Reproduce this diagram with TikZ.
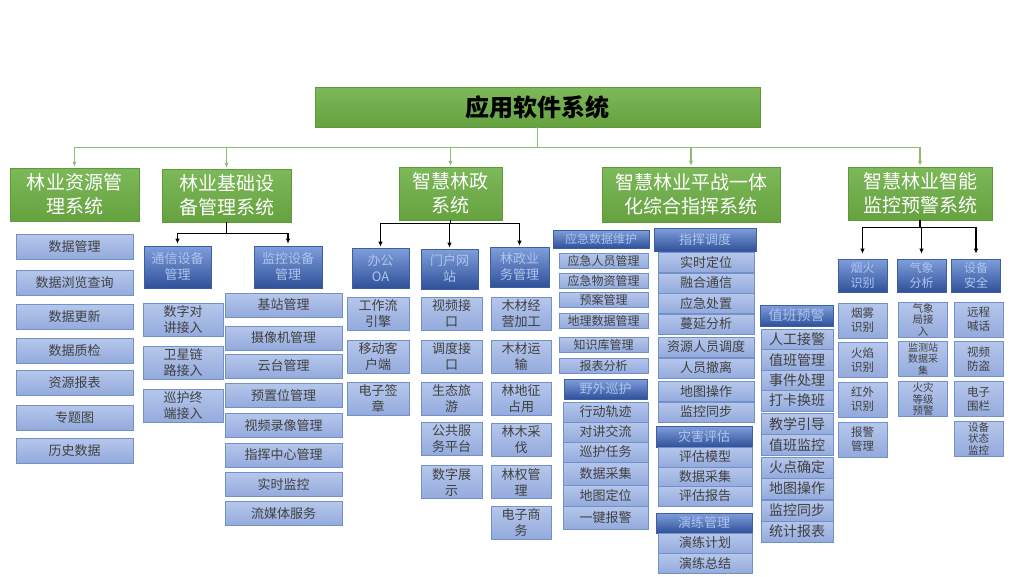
\documentclass[tikz,border=0pt]{standalone}
\usepackage{fontspec}
\setmainfont{Noto Sans CJK SC}
\usetikzlibrary{arrows.meta}

\definecolor{grntop}{HTML}{7DB85A}
\definecolor{grnbot}{HTML}{66A23F}
\definecolor{grnedge}{HTML}{5E9A3A}
\definecolor{grnline}{HTML}{8EBB6F}
\definecolor{itemtop}{HTML}{B6C7EB}
\definecolor{itembot}{HTML}{93AADC}
\definecolor{itemedge}{HTML}{7290CA}
\definecolor{itemtext}{HTML}{404040}
\definecolor{headtop}{HTML}{7F9EDB}
\definecolor{headbot}{HTML}{2F5199}
\definecolor{headedge}{HTML}{3D5EA3}
\definecolor{headtext}{HTML}{AFC4EE}

\begin{document}
\begin{tikzpicture}[x=1pt,y=-1pt,>={Latex[length=5pt,width=4.5pt]},
  sz/.style 2 args={minimum width=#1pt,minimum height=#2pt},
  sysbox/.style={draw=grnedge,line width=0.5pt,top color=grntop,bottom color=grnbot,
    text=white,align=center,inner sep=0pt,font=\fontsize{19}{24}\selectfont},
  rootbox/.style={sysbox,text=black,font=\fontsize{24}{28}\selectfont\bfseries},
  item/.style={draw=itemedge,line width=0.6pt,top color=itemtop,bottom color=itembot,
    text=itemtext,align=center,inner sep=0pt,font=\fontsize{13}{16}\selectfont},
  head/.style={draw=headedge,line width=0.6pt,top color=headtop,bottom color=headbot,
    text=headtext,align=center,inner sep=0pt,font=\fontsize{13}{16}\selectfont},
  gline/.style={draw=grnline,line width=1.1pt},
  bline/.style={draw=black,line width=1.1pt}]
  \useasboundingbox (0,0) rectangle (1024,576);

  % top level
  \node[rootbox,sz={445}{40}] (root) at (537.5,107) {应用软件系统};
  \node[sysbox,sz={129}{53}] (res) at (74.5,194.5) {林业资源管\\理系统};
  \node[sysbox,sz={129}{53}] (base) at (226.5,195.5) {林业基础设\\备管理系统};
  \node[sysbox,sz={103}{53}] (gov) at (450.5,193.5) {智慧林政\\系统};
  \node[sysbox,sz={178}{55}] (cmd) at (691,194.5) {智慧林业平战一体\\化综合指挥系统};
  \node[sysbox,sz={144}{53}] (mon) at (920,193.5) {智慧林业智能\\监控预警系统};
  \draw[gline] (root.south) -- ++(0,20) coordinate (gbar);
  \draw[gline] (gbar -| res) -- (gbar -| mon);
  \foreach \s in {res,base,gov,cmd,mon}
    \draw[gline,->,shorten >=1pt] (gbar -| \s) -- (\s.north);

  % resources
  \begin{scope}[every node/.style={item,sz={117}{25}}]
    \node (res1) at (74.5,246.5) {数据管理};
    \node (res2) at (74.5,283) {数据浏览查询};
    \node (res3) at (74.5,317) {数据更新};
    \node (res4) at (74.5,350.5) {数据质检};
    \node (res5) at (74.5,382.5) {资源报表};
    \node (res6) at (74.5,417.5) {专题图};
    \node (res7) at (74.5,450.5) {历史数据};
  \end{scope}

  % base equipment
  \node[head,sz={67}{42}] (comm) at (177.5,267) {通信设备\\管理};
  \node[head,sz={68}{42}] (moni) at (288,267) {监控设备\\管理};
  \draw[bline] (base.south) -- ++(0,11) coordinate (bbar);
  \draw[bline] (bbar -| comm) -- (bbar -| moni);
  \draw[bline,->,shorten >=2pt] (bbar -| comm) -- (comm.north);
  \draw[bline,->,shorten >=2pt] (bbar -| moni) -- (moni.north);
  \begin{scope}[every node/.style={item,sz={80}{33}}]
    \node (comm1) at (183,320) {数字对\\讲接入};
    \node (comm2) at (183,362.5) {卫星链\\路接入};
    \node (comm3) at (183,405.5) {巡护终\\端接入};
  \end{scope}
  \begin{scope}[every node/.style={item,sz={117}{24}}]
    \node (moni1) at (283.5,305) {基站管理};
    \node (moni2) at (283.5,338) {摄像机管理};
    \node (moni3) at (283.5,366) {云台管理};
    \node (moni4) at (283.5,395.5) {预置位管理};
    \node (moni5) at (283.5,425.5) {视频录像管理};
    \node (moni6) at (283.5,455) {指挥中心管理};
    \node (moni7) at (283.5,484.5) {实时监控};
    \node (moni8) at (283.5,513.5) {流媒体服务};
  \end{scope}

  % government affairs
  \node[head,sz={57}{40}] (oa) at (380.5,268) {办公\\OA};
  \node[head,sz={57}{40}] (portal) at (449.5,269) {门户网\\站};
  \node[head,sz={59}{40}] (biz) at (519.5,267) {林政业\\务管理};
  \draw[bline] (gov.south) -- ++(0,3) coordinate (obar);
  \draw[bline] (obar -| oa) -- (obar -| biz);
  \foreach \s in {oa,portal,biz}
    \draw[bline,->,shorten >=1pt] (obar -| \s) -- (\s.north);
  \begin{scope}[every node/.style={item,sz={62}{33}}]
    \node (oa1) at (378,313.5) {工作流\\引擎};
    \node (oa2) at (378,356.5) {移动客\\户端};
    \node (oa3) at (378,399) {电子签\\章};
  \end{scope}
  \begin{scope}[every node/.style={item,sz={61}{33}}]
    \node (portal1) at (451.5,313.5) {视频接\\口};
    \node (portal2) at (451.5,356.5) {调度接\\口};
    \node (portal3) at (451.5,399) {生态旅\\游};
    \node (portal4) at (451.5,439) {公共服\\务平台};
    \node (portal5) at (451.5,482) {数字展\\示};
  \end{scope}
  \begin{scope}[every node/.style={item,sz={60}{33}}]
    \node (biz1) at (521,313.5) {木材经\\营加工};
    \node (biz2) at (521,356.5) {木材运\\输};
    \node (biz3) at (521,399) {林地征\\占用};
    \node (biz4) at (521,439.5) {林木采\\伐};
    \node (biz5) at (521,482) {林权管\\理};
    \node (biz6) at (521,522.5) {电子商\\务};
  \end{scope}

  % command system
  \node[head,sz={96}{18},font=\fontsize{12}{14}\selectfont] (emhd) at (601,239) {应急数据维护};
  \begin{scope}[every node/.style={item,sz={89}{15},font=\fontsize{12}{14}\selectfont}]
    \node (em1) at (603.5,260.5) {应急人员管理};
    \node (em2) at (603.5,281) {应急物资管理};
    \node (em3) at (603.5,300) {预案管理};
    \node (em4) at (603.5,320.5) {地理数据管理};
    \node (em5) at (603.5,344.5) {知识库管理};
    \node (em6) at (603.5,365.5) {报表分析};
  \end{scope}
  \node[head,sz={83}{20}] (pthd) at (605.5,389) {野外巡护};
  \begin{scope}[every node/.style={item,minimum width=85pt}]
    \node[minimum height=20pt] (pt1) at (605.5,412) {行动轨迹};
    \node[minimum height=20pt] (pt2) at (605.5,432) {对讲交流};
    \node[minimum height=20pt] (pt3) at (605.5,452) {巡护任务};
    \node[minimum height=23pt] (pt4) at (605.5,473.5) {数据采集};
    \node[minimum height=21pt] (pt5) at (605.5,495.5) {地图定位};
    \node[minimum height=23pt] (pt6) at (605.5,517.5) {一键报警};
  \end{scope}
  \node[head,sz={102}{23}] (dsphd) at (705,239.5) {指挥调度};
  \begin{scope}[every node/.style={item,sz={96}{20}}]
    \node (dsp1) at (706,262.5) {实时定位};
    \node (dsp2) at (706,283) {融合通信};
    \node (dsp3) at (706,303.5) {应急处置};
    \node (dsp4) at (706,324) {蔓延分析};
    \node (dsp5) at (706,347) {资源人员调度};
    \node (dsp6) at (706,368) {人员撤离};
    \node (dsp7) at (706,391.5) {地图操作};
    \node (dsp8) at (706,412) {监控同步};
  \end{scope}
  \node[head,sz={96}{21}] (dishd) at (704,436.5) {灾害评估};
  \node[head,sz={96}{20}] (drlhd) at (704,523) {演练管理};
  \begin{scope}[every node/.style={item,sz={94}{20}}]
    \node (dis1) at (705,457) {评估模型};
    \node (dis2) at (705,477) {数据采集};
    \node (dis3) at (705,496) {评估报告};
    \node (drl1) at (705,543) {演练计划};
    \node (drl2) at (705,563.5) {演练总结};
  \end{scope}
  \node[head,sz={73}{21},font=\fontsize{14}{16}\selectfont] (dutyhd) at (796.5,315.5) {值班预警};
  \begin{scope}[every node/.style={item,sz={72}{21},font=\fontsize{14}{16}\selectfont}]
    \node (duty1) at (797,339.5) {人工接警};
    \node (duty2) at (797,360) {值班管理};
    \node (duty3) at (797,380.5) {事件处理};
    \node (duty4) at (797,400.5) {打卡换班};
    \node (duty5) at (797,424) {教学引导};
    \node (duty6) at (797,445) {值班监控};
    \node (duty7) at (797,467.5) {火点确定};
    \node (duty8) at (797,488.5) {地图操作};
    \node (duty9) at (797,510.5) {监控同步};
    \node (duty10) at (797,531.5) {统计报表};
  \end{scope}

  % monitoring and warning
  \begin{scope}[every node/.style={head,sz={49}{33},font=\fontsize{12}{15}\selectfont}]
    \node (fire) at (862.5,275.5) {烟火\\识别};
    \node (wea) at (921.5,275.5) {气象\\分析};
    \node (safe) at (976,275.5) {设备\\安全};
  \end{scope}
  \draw[bline] (mon.south) -- ++(0,7) coordinate (mbar);
  \draw[bline] (mbar -| fire) -- (mbar -| safe);
  \foreach \s in {fire,wea,safe}
    \draw[bline,->,shorten >=5pt] (mbar -| \s) -- (\s.north);
  \begin{scope}[every node/.style={item,sz={49}{35},font=\fontsize{11.5}{14}\selectfont}]
    \node (fire1) at (862.5,320.5) {烟雾\\识别};
    \node (fire2) at (862.5,360) {火焰\\识别};
    \node (fire3) at (862.5,399.5) {红外\\识别};
    \node (fire4) at (862.5,439.5) {报警\\管理};
    \node[font=\fontsize{10.5}{11.5}\selectfont] (wea1) at (923,319.5) {气象\\局接\\入};
    \node[font=\fontsize{10}{11.5}\selectfont] (wea2) at (923,359) {监测站\\数据采\\集};
    \node[font=\fontsize{10.5}{11.5}\selectfont] (wea3) at (923,399) {火灾\\等级\\预警};
    \node (safe1) at (978.5,319.5) {远程\\喊话};
    \node (safe2) at (978.5,359) {视频\\防盗};
    \node (safe3) at (978.5,399) {电子\\围栏};
    \node[font=\fontsize{10.5}{11.5}\selectfont] (safe4) at (978.5,438.5) {设备\\状态\\监控};
  \end{scope}
\end{tikzpicture}
\end{document}
